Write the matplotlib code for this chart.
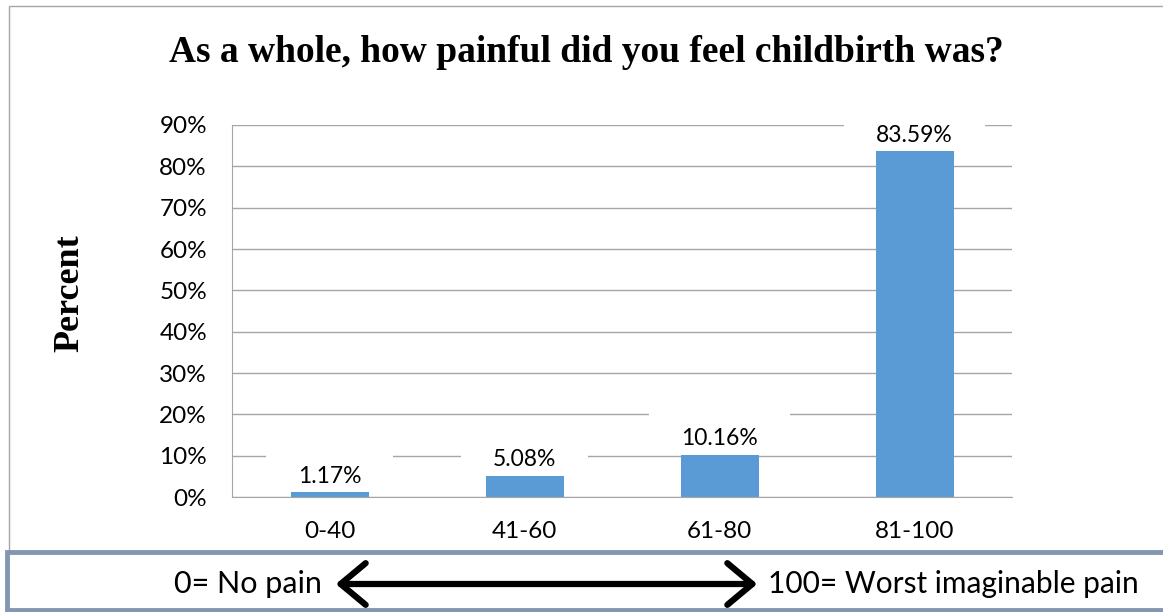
import matplotlib
matplotlib.use("Agg")
import matplotlib.pyplot as plt
from matplotlib.patches import Rectangle, FancyArrowPatch
from matplotlib.path import Path
from matplotlib.ticker import FuncFormatter

# data
categories = ["0-40", "41-60", "61-80", "81-100"]
percent = [1.17, 5.08, 10.16, 83.59]
yticks = [0, 10, 20, 30, 40, 50, 60, 70, 80, 90]

W, H = 1163, 612
BAR = "#5B9BD5"
GRID = "#A6A6A6"
SANS = ["Lato", "DejaVu Sans"]
SERIF = ["Liberation Serif", "DejaVu Serif"]


def px(x, y):
    # pixel position (from top-left) -> figure fraction
    return x / W, 1 - y / H


def label_box(x0, y0, width, height, mutation_size):
    # white box behind the data labels, wider than tall, mostly above the text
    padx = 1.4 * mutation_size
    ptop = 1.0 * mutation_size
    pbot = 0.1 * mutation_size
    xa, xb = x0 - padx, x0 + width + padx
    ya, yb = y0 - pbot, y0 + height + ptop
    return Path([(xa, ya), (xb, ya), (xb, yb), (xa, yb), (xa, ya)], closed=True)


fig = plt.figure(figsize=(W / 100, H / 100), dpi=100)

# outer chart frame (runs off the right and bottom edge)
fx, fy = px(9, 6)
fig.patches.append(Rectangle((fx, -1), 2, fy + 1, transform=fig.transFigure,
                             fill=False, edgecolor=GRID, lw=1))

left, top = px(232, 125)
right, bottom = px(1012, 497)
ax = fig.add_axes([left, bottom, right - left, top - bottom])

xs = list(range(len(categories)))
ax.bar(xs, percent, width=0.4, color=BAR, zorder=3)
ax.set_xlim(-0.5, len(categories) - 0.5)
ax.set_ylim(0, 90)
ax.set_yticks(yticks)
ax.yaxis.set_major_formatter(FuncFormatter(lambda v, p: f"{v:.0f}%"))
ax.set_xticks(xs)
ax.set_xticklabels(categories)
ax.tick_params(axis="y", length=0, pad=18, labelsize=17.5)
ax.tick_params(axis="x", length=0, pad=17, labelsize=17.5)
for t in ax.get_xticklabels() + ax.get_yticklabels():
    t.set_family(SANS)
ax.grid(axis="y", color=GRID, lw=1, zorder=1)
ax.set_axisbelow(True)
for s in ["top", "right"]:
    ax.spines[s].set_visible(False)
for s in ["left", "bottom"]:
    ax.spines[s].set_color(GRID)
    ax.spines[s].set_zorder(4)

for x, v in zip(xs, percent):
    ax.annotate(f"{v:.2f}%", (x, v), xytext=(0, 4), textcoords="offset points",
                ha="center", va="bottom", fontsize=16.5, family=SANS, zorder=2,
                annotation_clip=False, clip_on=True,
                bbox=dict(boxstyle=label_box, fc="white", ec="none"))

fig.text(*px(586, 52), "As a whole, how painful did you feel childbirth was?",
         ha="center", va="center", fontsize=27, fontweight="bold", family=SERIF)
fig.text(*px(70, 293), "Percent", ha="center", va="center", rotation=90,
         fontsize=26, fontweight="bold", family=SERIF)

# scale box underneath
fig.patches.append(Rectangle(px(7, 610), 2, 58 / H, transform=fig.transFigure,
                             fc="white", ec="#8497B0", lw=3.5, zorder=5))
fig.text(*px(322, 584), "0= No pain", ha="right", va="center", fontsize=22,
         family=SANS, zorder=6)
fig.text(*px(768, 584), "100= Worst imaginable pain", ha="left", va="center",
         fontsize=21.5, family=SANS, zorder=6)
fig.add_artist(FancyArrowPatch(
    px(333, 584), px(760, 584), transform=fig.transFigure,
    arrowstyle="<->,head_length=0.9,head_width=0.75", mutation_scale=20,
    lw=4.5, color="black", zorder=6))

fig.savefig("out.png", dpi=100)
